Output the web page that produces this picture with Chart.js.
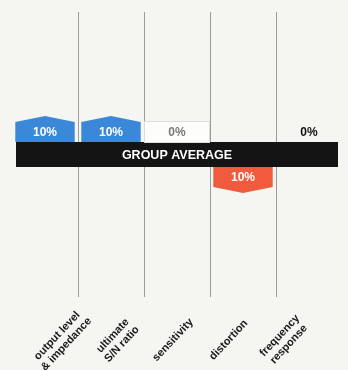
<!DOCTYPE html>
<html>
<head>
<meta charset="utf-8">
<script src="https://cdn.jsdelivr.net/npm/chart.js@4/dist/chart.umd.min.js"></script>
<style>
  html, body { margin: 0; padding: 0; background: #f5f5f1; }
  #wrap { width: 348px; height: 370px; }
</style>
</head>
<body>
<div id="wrap"><canvas id="c" width="348" height="370"></canvas></div>
<script>
// Change versus the group average, per test area (percent).
const categories = [
  ["output level", "& impedance"],
  ["ultimate", "S/N ratio"],
  ["sensitivity"],
  ["distortion"],
  ["frequency", "response"],
];
const changes = [10, 10, 0, -10, 0];
const zeroBoxed = [false, false, true, false, false];
const bandLabel = "GROUP AVERAGE";
const yRange = [-55, 55];

const UP = "#3b88d8";
const DOWN = "#f05b3d";
const BAND = "#141414";
const BAND_HALF = 12.5;
const PEAK = 6;
const FONT = "'Liberation Sans', Arial, sans-serif";

// Band across the zero line, with arrow-tabs growing out of it.
const tabs = {
  id: "tabs",
  afterDatasetsDraw(chart) {
    const ctx = chart.ctx;
    const area = chart.chartArea;
    const zero = chart.scales.y.getPixelForValue(0);
    ctx.save();
    ctx.fillStyle = BAND;
    ctx.fillRect(area.left + 4, zero - BAND_HALF, area.width - 8, BAND_HALF * 2);
    ctx.fillStyle = "#ffffff";
    ctx.font = "bold 12.5px " + FONT;
    ctx.textAlign = "center";
    ctx.textBaseline = "middle";
    ctx.fillText(bandLabel, (area.left + area.right) / 2, zero + 1);

    const step = area.width / categories.length;
    chart.getDatasetMeta(0).data.forEach(function (el, i) {
      const v = changes[i];
      const x = el.x;
      const half = el.width / 2;
      if (v === 0) {
        const top = zero - BAND_HALF - 21;
        if (zeroBoxed[i]) {
          ctx.fillStyle = "#fdfdfb";
          ctx.fillRect(x - step / 2 + 0.5, top, step - 1, 21);
          ctx.strokeStyle = "#dcdcd8";
          ctx.lineWidth = 1;
          ctx.strokeRect(x - step / 2 + 0.5, top + 0.5, step - 1, 21);
        }
        ctx.fillStyle = zeroBoxed[i] ? "#7a7a7a" : "#111111";
        ctx.font = "bold 12px " + FONT;
        ctx.fillText("0%", x, top + 11.5);
        return;
      }
      const dir = v > 0 ? -1 : 1;
      const len = Math.abs(el.y - el.base);
      const start = zero + dir * BAND_HALF;
      const tip = start + dir * len;
      const shoulder = tip - dir * PEAK;
      ctx.fillStyle = v > 0 ? UP : DOWN;
      ctx.beginPath();
      ctx.moveTo(x - half, start);
      ctx.lineTo(x - half, shoulder);
      ctx.lineTo(x, tip);
      ctx.lineTo(x + half, shoulder);
      ctx.lineTo(x + half, start);
      ctx.closePath();
      ctx.fill();
      ctx.fillStyle = "#ffffff";
      ctx.font = "bold 12px " + FONT;
      ctx.fillText(Math.abs(v) + "%", x, (start + shoulder) / 2 + 1);
    });
    ctx.restore();
  },
};

// Slanted category names under the columns; they sit in a strip a bit
// narrower than the plot, so pull each one in toward the middle.
const slantedLabels = {
  id: "slantedLabels",
  afterDraw(chart) {
    const ctx = chart.ctx;
    const x = chart.scales.x;
    const area = chart.chartArea;
    const mid = (area.left + area.right) / 2;
    const lineH = 12.5;
    ctx.save();
    ctx.fillStyle = "#1a1a1a";
    ctx.font = "bold 11px " + FONT;
    ctx.textAlign = "center";
    ctx.textBaseline = "middle";
    categories.forEach(function (lines, i) {
      const cx = mid - 4 + (x.getPixelForTick(i) - mid) * 0.843;
      const cy = area.bottom + 43;
      ctx.save();
      ctx.translate(cx, cy);
      ctx.rotate((-47 * Math.PI) / 180);
      lines.forEach(function (t, k) {
        ctx.fillText(t, 0, (k - (lines.length - 1) / 2) * lineH);
      });
      ctx.restore();
    });
    ctx.restore();
  },
};

new Chart(document.getElementById("c"), {
  type: "bar",
  data: {
    labels: categories,
    datasets: [
      {
        data: changes,
        backgroundColor: "rgba(0,0,0,0)",
        barPercentage: 0.9,
        categoryPercentage: 1,
      },
    ],
  },
  options: {
    responsive: false,
    animation: false,
    layout: { padding: { left: 12, right: 6, top: 12, bottom: 0 } },
    plugins: { legend: { display: false }, tooltip: { enabled: false } },
    scales: {
      x: {
        grid: {
          offset: true,
          drawTicks: false,
          lineWidth: 1,
          color: function (c) {
            return c.index > 0 && c.index < categories.length ? "#9c9c9c" : "rgba(0,0,0,0)";
          },
        },
        border: { display: false },
        ticks: { display: false },
        afterFit: function (s) {
          s.height = 73;
          s.paddingLeft = 0;
          s.paddingRight = 0;
        },
      },
      y: { display: false, min: yRange[0], max: yRange[1] },
    },
  },
  plugins: [tabs, slantedLabels],
});
</script>
</body>
</html>
